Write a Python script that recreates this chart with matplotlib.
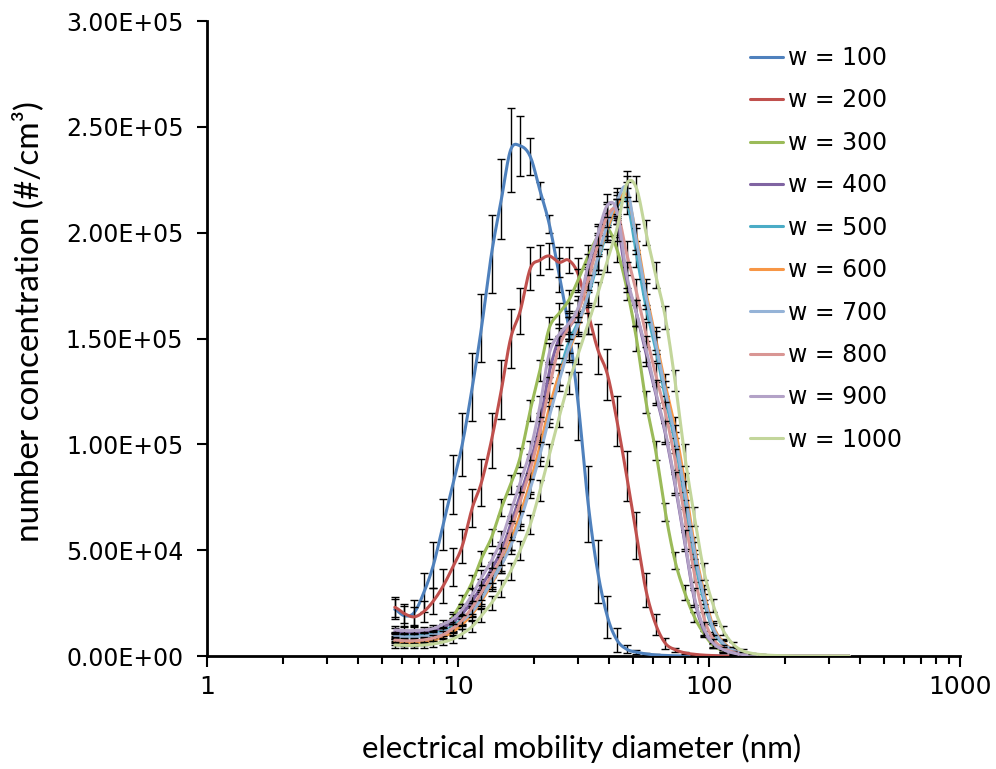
import numpy as np
import matplotlib

matplotlib.use("Agg")
from matplotlib import pyplot as plt
from matplotlib.ticker import FuncFormatter, LogLocator, NullFormatter

# mobility diameter bins (nm)
diameter = [5.6, 6.12, 6.69, 7.31, 7.98, 8.72, 9.53, 10.4, 11.4, 12.4, 13.6, 14.9, 16.2, 17.7, 19.4, 21.2,
            23.1, 25.3, 27.6, 30.2, 33.0, 36.0, 39.4, 43.0, 47.0, 51.4, 56.1, 61.3, 67.0, 73.2, 80.0, 87.4,
            95.5, 104, 114, 125, 136, 149, 163, 178, 194, 212, 232, 253, 277, 302, 330, 361]

labels = ["w = 100", "w = 200", "w = 300", "w = 400", "w = 500",
          "w = 600", "w = 700", "w = 800", "w = 900", "w = 1000"]

# number concentration, in 1000 #/cm3
w100 = [22, 19, 20.5, 30, 43, 62, 81, 100, 127, 155, 190, 216, 239, 241, 236, 220, 204, 180, 155, 118, 72, 40,
        18.5, 7.5, 3.2, 1.8, 1.0, 0.5, 0.25, 0.1] + [0] * 18
w200 = [23, 20, 18.5, 21, 26, 33, 42, 52, 70, 82, 102, 126, 150, 163, 183, 187, 189, 186, 187, 180, 162, 145,
        133, 111, 85, 57, 31, 15, 6, 3, 1.5, 0.8, 0.4, 0.2] + [0] * 14
w300 = [9, 9, 9, 9.5, 10.5, 13, 18.5, 26, 35, 46, 56, 70, 81, 94, 116, 135, 155, 162, 168, 178, 189, 198,
        202, 192, 174, 150, 120, 97, 68, 45, 30, 18.5, 10.5, 5, 2.5, 1.6, 0.9, 0.5, 0.2] + [0] * 9
w400 = [11.3, 11, 11, 11.2, 12, 13.5, 16, 20, 26, 33, 41, 50, 62, 76, 91, 110, 134, 150, 155, 163, 180, 195,
        209, 205, 178, 162, 143, 124, 105, 81, 54, 27, 12, 6, 2.8, 1.3, 0.6, 0.3, 0.15] + [0] * 9
w500 = [9.9, 9.6, 9.6, 9.8, 10.5, 11.8, 14, 17.5, 22, 28, 36, 44, 54, 66, 81, 97, 115, 133, 148, 158, 170, 186,
        201, 212, 215, 190, 165, 145, 122, 101, 74, 46, 26, 12, 5.5, 2.5, 1.2, 0.5, 0.25, 0.1] + [0] * 8
w600 = [6.6, 6.3, 6.3, 6.7, 7.5, 9, 11.5, 15, 20, 26, 34, 43, 54, 67, 82, 99, 117, 133, 144, 156, 172, 188,
        202, 213, 218, 198, 172, 150, 128, 108, 82, 52, 30, 14, 6.5, 3, 1.4, 0.6, 0.3, 0.15] + [0] * 8
w700 = [9.4, 9, 9, 9.3, 10, 11.2, 13.3, 16.5, 21, 27, 35, 43, 52, 64, 79, 95, 113, 130, 145, 157, 171, 188,
        204, 215, 221, 196, 170, 148, 125, 104, 78, 50, 28, 13, 6, 2.8, 1.3, 0.6, 0.3, 0.15] + [0] * 8
w800 = [7.5, 7.2, 7.2, 7.6, 8.5, 10, 13, 17, 23, 30, 38, 47, 59, 73, 88, 106, 127, 146, 155, 163, 178, 194,
        208, 210, 190, 172, 152, 133, 115, 93, 66, 39, 18, 8, 3.8, 1.8, 0.8, 0.4, 0.2, 0.1] + [0] * 8
w900 = [12.3, 12, 12, 12.3, 13, 15, 17.5, 22, 29, 37, 45, 55, 68, 82, 97, 118, 143, 152, 157, 165, 185, 199,
        213, 210, 180, 162, 145, 125, 106, 82, 55, 28, 13, 6, 3, 1.4, 0.7, 0.3, 0.15] + [0] * 9
w1000 = [5.2, 5, 5, 5.2, 5.7, 6.6, 8, 10.5, 14, 19, 25, 32, 40, 50, 62, 78, 95, 113, 129, 143, 157, 171,
         187, 202, 223, 221, 200, 180, 160, 130, 95, 66, 40, 24, 12, 5.5, 2.5, 1.2, 0.6, 0.3, 0.15] + [0] * 7

# standard deviation, in 1000 #/cm3
e100 = [4.7, 4.7, 6, 9, 11, 12, 14, 15, 16, 16, 18.5, 19, 20, 14, 8.7, 4, 4.2, 8, 12, 16, 18, 15, 10, 5.5, 2, 1,
        0.5, 0.3] + [0] * 20
e200 = [4.7, 4.5, 4.5, 5, 6, 8, 9, 8, 9, 11, 13, 14, 14, 11, 10, 7, 6, 7, 6, 8, 10, 12, 12, 12, 12, 11, 8, 5,
        2.5, 1, 0.5, 0.3] + [0] * 16
e300 = [1.8, 1.5, 1.5, 1.5, 1.6, 2, 2.5, 3, 3.5, 3.5, 4, 4, 4.5, 4.5, 5, 5, 5, 5, 5, 5, 5, 5, 5.5, 6, 6, 6, 5,
        4.5, 4.3, 4, 3.5, 2.4, 1.2, 0.7, 0.4, 0.2] + [0] * 12
e400 = [1.8, 1.5, 1.5, 1.5, 1.6, 1.8, 2, 2.5, 3, 3.5, 3.5, 4, 4, 4.5, 4.5, 5, 5, 5, 5, 5, 5, 5, 5.5, 6, 6, 6, 6,
        5.5, 5, 5, 4.5, 4, 3, 2, 1.2, 0.7, 0.4, 0.2, 0.1] + [0] * 9
e500 = [1.6, 1.5, 1.5, 1.5, 1.6, 1.8, 2, 2.5, 3, 3.2, 3.5, 4, 4, 4.5, 4.5, 5, 5, 5, 5, 5, 5, 5.5, 5.5, 6, 6, 6,
        6, 5.5, 5, 5, 4.5, 4, 3.5, 2.5, 1.5, 0.8, 0.4, 0.2, 0.1] + [0] * 9
e600 = [1.5, 1.4, 1.4, 1.4, 1.5, 1.7, 2, 2.4, 2.8, 3.2, 3.5, 4, 4, 4.5, 4.5, 5, 5, 5, 5, 5, 5, 5.5, 5.5, 6, 6,
        6, 6, 5.5, 5, 5, 4.5, 4, 3.5, 2.5, 1.5, 0.8, 0.4, 0.2, 0.1] + [0] * 9
e700 = [1.6, 1.5, 1.5, 1.5, 1.6, 1.8, 2, 2.4, 2.8, 3.2, 3.5, 4, 4, 4.5, 4.5, 5, 5, 5, 5, 5, 5, 5.5, 5.5, 6, 6,
        6, 6, 5.5, 5, 5, 4.5, 4, 3.5, 2.5, 1.5, 0.8, 0.4, 0.2, 0.1] + [0] * 9
e800 = [1.5, 1.4, 1.4, 1.4, 1.5, 1.7, 2, 2.5, 3, 3.5, 3.5, 4, 4, 4.5, 4.5, 5, 5, 5, 5, 5, 5, 5, 5.5, 6, 6, 6, 6,
        5.5, 5, 5, 4.5, 4, 3, 2, 1.2, 0.7, 0.4, 0.2, 0.1] + [0] * 9
e900 = [1.8, 1.6, 1.6, 1.6, 1.7, 1.9, 2.2, 2.6, 3, 3.5, 3.5, 4, 4, 4.5, 4.5, 5, 5, 5, 5, 5, 5, 5, 5.5, 6, 6, 6,
        6, 5.5, 5, 5, 4.5, 4, 3, 2, 1.2, 0.7, 0.4, 0.2, 0.1] + [0] * 9
e1000 = [1.4, 1.3, 1.3, 1.3, 1.4, 1.6, 1.8, 2.2, 2.6, 3, 3.5, 4, 4, 4.5, 4.5, 5, 5, 5, 5, 5, 5, 5.5, 5.5, 6, 6,
         6, 6, 6, 5.5, 5, 5, 4.5, 4, 3, 2, 1.2, 0.7, 0.4, 0.2, 0.1] + [0] * 8

colors = ["#4F81BD", "#C0504D", "#9BBB59", "#8064A2", "#4BACC6",
          "#F79646", "#95B3D7", "#D99694", "#B3A2C7", "#C3D69B"]


def smooth(x, y, n=12):
    # catmull-rom through the points, in log-x space, like excel's smoothed line
    lx = np.log10(x)
    px = np.concatenate([[2 * lx[0] - lx[1]], lx, [2 * lx[-1] - lx[-2]]])
    py = np.concatenate([[y[0]], y, [y[-1]]])
    xs, ys = [], []
    t = np.linspace(0, 1, n, endpoint=False)
    for i in range(1, len(px) - 2):
        for arr, out in ((px, xs), (py, ys)):
            p0, p1, p2, p3 = arr[i - 1], arr[i], arr[i + 1], arr[i + 2]
            out.append(0.5 * (2 * p1 + (-p0 + p2) * t + (2 * p0 - 5 * p1 + 4 * p2 - p3) * t ** 2
                              + (-p0 + 3 * p1 - 3 * p2 + p3) * t ** 3))
    xs.append([lx[-1]])
    ys.append([y[-1]])
    return 10 ** np.concatenate(xs), np.concatenate(ys)


series = [w100, w200, w300, w400, w500, w600, w700, w800, w900, w1000]
errors = [e100, e200, e300, e400, e500, e600, e700, e800, e900, e1000]

fig = plt.figure(figsize=(9.96, 7.69), dpi=100)
ax = fig.add_axes([207 / 996, 1 - 656 / 769, 753 / 996, 635 / 769])

d = np.array(diameter)
handles = []
for k, (vals, errs) in enumerate(zip(series, errors)):
    y = np.array(vals) * 1e3
    e = np.array(errs) * 1e3
    m = e > 0
    ax.errorbar(d[m], y[m], yerr=e[m], fmt="none", ecolor="black", elinewidth=1.0,
                capsize=3, capthick=1.0, zorder=2 + 2 * k)
    sx, sy = smooth(d, y)
    h, = ax.plot(sx, sy, color=colors[k], lw=2.2, label=labels[k], zorder=3 + 2 * k,
                 solid_capstyle="round")
    handles.append(h)

ax.set_xscale("log")
ax.set_xlim(1, 1000)
ax.set_ylim(0, 3e5)
ax.set_yticks(np.arange(0, 3.01e5, 5e4))
ax.yaxis.set_major_formatter(FuncFormatter(lambda v, p: f"{v:.2E}"))
ax.xaxis.set_major_locator(LogLocator(base=10, numticks=10))
ax.xaxis.set_minor_locator(LogLocator(base=10, subs=np.arange(2, 10), numticks=100))
ax.xaxis.set_minor_formatter(NullFormatter())
ax.xaxis.set_major_formatter(FuncFormatter(lambda v, p: f"{v:g}"))

for s in ["top", "right"]:
    ax.spines[s].set_visible(False)
for s in ["left", "bottom"]:
    ax.spines[s].set_linewidth(2)
ax.tick_params(axis="y", which="major", direction="out", length=7, width=1.5,
               labelsize=17, pad=10)
ax.tick_params(axis="x", which="major", direction="out", length=8, width=1.5,
               labelsize=18, pad=6)
ax.tick_params(axis="x", which="minor", direction="out", length=6, width=1.5)

fig.text(582 / 996, 1 - 748 / 769, "electrical mobility diameter (nm)", fontsize=22.5,
         family="Lato", ha="center", va="center")
fig.text(28 / 996, 1 - 322 / 769, "number concentration (#/cm³)", fontsize=24,
         family="Lato", ha="center", va="center", rotation=90)

ax.legend(handles=handles, loc="upper left", bbox_to_anchor=(750 / 996, 1 - 46 / 769),
          bbox_transform=fig.transFigure, frameon=False, fontsize=17, handlelength=1.4,
          handletextpad=0.2, labelspacing=0.78, borderpad=0, borderaxespad=0)

fig.savefig("out.png", dpi=100)
